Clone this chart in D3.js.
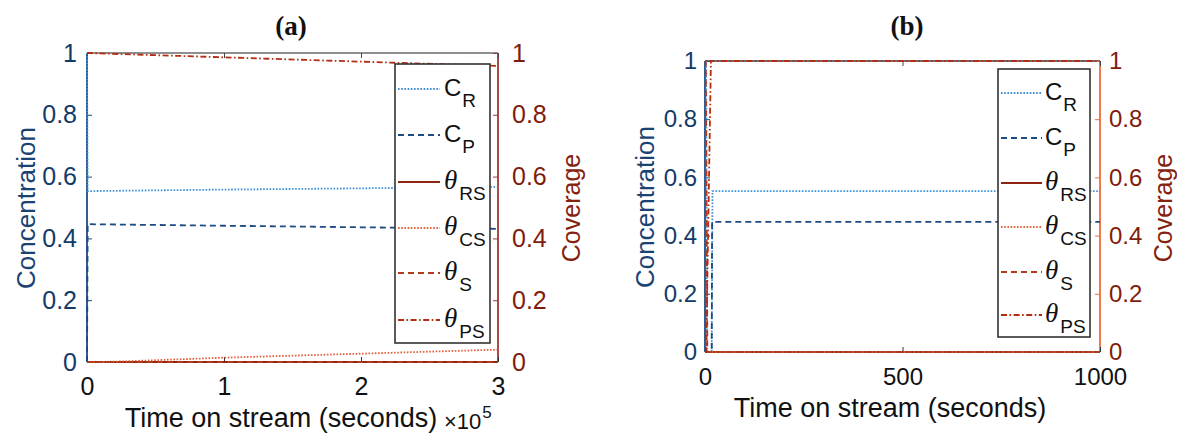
<!DOCTYPE html>
<html lang="en">
<head>
<meta charset="utf-8" />
<title>Concentration and coverage vs time on stream</title>
<script src="https://cdn.jsdelivr.net/npm/d3@7"></script>
<style>
  html,body{margin:0;background:#fff;}
  svg{display:block;}
  .tick text{font-family:"Liberation Sans",Arial,Helvetica,sans-serif;}
</style>
</head>
<body>
<svg id="chart" width="1177" height="434"></svg>
<script>
// ---------- data : panel (a), time in units of 1e5 s ----------
const aTimeCR = [0, 0.005, 1, 2, 3];
const aCR     = [1, 0.553, 0.558, 0.562, 0.567];
const aTimeCP = [0, 0.005, 1, 2, 3];
const aCP     = [0, 0.446, 0.441, 0.436, 0.431];
const aTimeRS = [0, 3];
const aRS     = [0, 0];
const aTimeCS = [0, 0.2, 1, 2, 3];
const aCS     = [0, 0.001, 0.014, 0.027, 0.040];
const aTimeS  = [0, 3];
const aS      = [0, 0];
const aTimePS = [0, 1, 2, 3];
const aPS     = [1, 0.986, 0.972, 0.958];

// ---------- data : panel (b), time in seconds ----------
const bTimeCR = [0, 3, 5, 17, 19, 1000];
const bCR     = [1, 1, 0, 0, 0.553, 0.553];
const bTimeCP = [0, 17, 18, 1000];
const bCP     = [0, 0, 0.447, 0.447];
const bTimeRS = [0, 1000];
const bRS     = [0, 0];
const bTimeCS = [0, 1000];
const bCS     = [0, 0];
const bTimeS  = [0, 2, 6, 1000];
const bS      = [1, 1, 0, 0];
const bTimePS = [0, 3, 15, 1000];
const bPS     = [0, 0, 1, 1];

// ---------- labels / ticks ----------
const legendMain = ['C', 'C', 'θ', 'θ', 'θ', 'θ'];
const legendSub  = ['R', 'P', 'RS', 'CS', 'S', 'PS'];
const yTicks  = [0, 0.2, 0.4, 0.6, 0.8, 1];
const aXTicks = [0, 1, 2, 3];
const bXTicks = [0, 500, 1000];
const titles  = ['(a)', '(b)'];

// ---------- styles ----------
const seriesStyle = [
  {color:'#3b8fd8', dash:'1.6,1.6', w:1.8},        // C_R dotted
  {color:'#1c4a84', dash:'6,4',     w:1.8},        // C_P dashed
  {color:'#8e2412', dash:null,      w:2},          // θ_RS solid
  {color:'#e2603a', dash:'1.6,1.6', w:1.8},        // θ_CS dotted
  {color:'#b23a1c', dash:'6,4',     w:1.8},        // θ_S dashed
  {color:'#b32d12', dash:'6,2.5,1.6,2.5', w:1.8}   // θ_PS dash-dot
];
const NAVY = '#143a68', DARKRED = '#7f1c0c';
const SANS = '"Liberation Sans",Arial,Helvetica,sans-serif';
const SERIF = '"Liberation Serif","Times New Roman",serif';

const svg = d3.select('#chart');

const panels = [
  {
    x0:87, x1:498, y0:53, y1:362, xDomain:[0,3], xTicks:aXTicks,
    times:[aTimeCR,aTimeCP,aTimeRS,aTimeCS,aTimeS,aTimePS],
    vals:[aCR,aCP,aRS,aCS,aS,aPS],
    leftCol:'#1d4a80', rightCol:'#9c3a30', topCol:'#6a6a6a', bottomCol:'#8e2412',
    legend:{x:395, y:64, w:95, h:279, rows:[89,135,182,228,273,320], lx0:398, lx1:440, tx:444},
    title:{x:291, y:35}, yLab:{x:26, y:208}, cov:{x:571, y:208},
    xTickY:395, xLab:{x:281, y:427}, exponent:true,
    lPad:10, rPad:14, tickFont:25
  },
  {
    x0:705, x1:1100, y0:61, y1:352, xDomain:[0,1000], xTicks:bXTicks,
    times:[bTimeCR,bTimeCP,bTimeRS,bTimeCS,bTimeS,bTimePS],
    vals:[bCR,bCP,bRS,bCS,bS,bPS],
    leftCol:'#1d4a80', rightCol:'#ec6d3c', topCol:'#3a3f4a', bottomCol:'#e4602f',
    legend:{x:998, y:69, w:92, h:268, rows:[93,138,183,227,272,315], lx0:1001, lx1:1042, tx:1045},
    title:{x:907, y:35}, yLab:{x:645, y:207}, cov:{x:1163, y:208},
    xTickY:385, xLab:{x:890, y:417}, exponent:false,
    lPad:8, rPad:9, tickFont:24
  }
];

panels.forEach((p, pi) => {
  const g = svg.append('g');
  const x = d3.scaleLinear().domain(p.xDomain).range([p.x0, p.x1]);
  const y = d3.scaleLinear().domain([0, 1]).range([p.y1, p.y0]);

  // box edges
  g.append('line').attr('x1',p.x0).attr('x2',p.x1).attr('y1',p.y0).attr('y2',p.y0).attr('stroke',p.topCol).attr('stroke-width',1.3);
  g.append('line').attr('x1',p.x0).attr('x2',p.x1).attr('y1',p.y1).attr('y2',p.y1).attr('stroke',p.bottomCol).attr('stroke-width',2);
  g.append('line').attr('x1',p.x0).attr('x2',p.x0).attr('y1',p.y0).attr('y2',p.y1).attr('stroke',p.leftCol).attr('stroke-width',1.8);
  g.append('line').attr('x1',p.x1).attr('x2',p.x1).attr('y1',p.y0).attr('y2',p.y1).attr('stroke',p.rightCol).attr('stroke-width',1.8);

  // axes (ticks inward, MATLAB style)
  const axB = g.append('g').attr('transform',`translate(0,${p.y1})`)
    .call(d3.axisBottom(x).tickValues(p.xTicks).tickSizeInner(-5).tickSizeOuter(0).tickPadding(0).tickFormat(d=>d));
  axB.select('.domain').remove();
  axB.selectAll('line').attr('stroke','#333');
  axB.selectAll('text').attr('y', p.xTickY - p.y1).attr('dy',null)
    .attr('font-size',p.tickFont).attr('fill','#111').attr('font-family',SANS);

  const axT = g.append('g').attr('transform',`translate(0,${p.y0})`)
    .call(d3.axisTop(x).tickValues(p.xTicks).tickSizeInner(-5).tickSizeOuter(0).tickFormat(''));
  axT.select('.domain').remove();
  axT.selectAll('line').attr('stroke','#444');

  const axL = g.append('g').attr('transform',`translate(${p.x0},0)`)
    .call(d3.axisLeft(y).tickValues(yTicks).tickSizeInner(-5).tickSizeOuter(0).tickPadding(p.lPad).tickFormat(d=>d));
  axL.select('.domain').remove();
  axL.selectAll('line').attr('stroke',p.leftCol);
  axL.selectAll('text').attr('font-size',p.tickFont).attr('fill',NAVY).attr('font-family',SANS);

  const axR = g.append('g').attr('transform',`translate(${p.x1},0)`)
    .call(d3.axisRight(y).tickValues(yTicks).tickSizeInner(-5).tickSizeOuter(0).tickPadding(p.rPad).tickFormat(d=>d));
  axR.select('.domain').remove();
  axR.selectAll('line').attr('stroke',p.rightCol);
  axR.selectAll('text').attr('font-size',p.tickFont).attr('fill',DARKRED).attr('font-family',SANS);

  // series
  const line = d3.line().x(d=>x(d[0])).y(d=>y(d[1]));
  p.times.forEach((t, si) => {
    const pts = t.map((tv, k) => [tv, p.vals[si][k]]);
    const st = seriesStyle[si];
    g.append('path').datum(pts).attr('d', line).attr('fill','none')
      .attr('stroke', st.color).attr('stroke-width', st.w)
      .attr('stroke-dasharray', st.dash);
  });

  // legend
  const L = p.legend;
  g.append('rect').attr('x',L.x).attr('y',L.y).attr('width',L.w).attr('height',L.h)
    .attr('fill','#fff').attr('stroke','#333').attr('stroke-width',1.6);
  L.rows.forEach((ry, si) => {
    const st = seriesStyle[si];
    g.append('line').attr('x1',L.lx0).attr('x2',L.lx1).attr('y1',ry).attr('y2',ry)
      .attr('stroke',st.color).attr('stroke-width',st.w).attr('stroke-dasharray',st.dash);
    const isTheta = legendMain[si] === 'θ';
    const m = g.append('text').attr('x',L.tx).attr('y',ry+7)
      .attr('font-family', isTheta ? SERIF : SANS)
      .attr('font-style', isTheta ? 'italic' : 'normal')
      .attr('font-size', isTheta ? 27 : 24).attr('fill','#111').text(legendMain[si]);
    const mw = m.node().getComputedTextLength();
    g.append('text').attr('x',L.tx + mw + (isTheta ? 2 : 1)).attr('y',ry+18)
      .attr('font-family',SANS).attr('font-size',19).attr('fill','#111').text(legendSub[si]);
  });

  // titles and labels
  g.append('text').attr('x',p.title.x).attr('y',p.title.y).attr('text-anchor','middle')
    .attr('font-family',SERIF).attr('font-weight','bold').attr('font-size',27).attr('fill','#111')
    .text(titles[pi]);
  g.append('text').attr('transform',`translate(${p.yLab.x},${p.yLab.y}) rotate(-90)`)
    .attr('text-anchor','middle').attr('dy','0.35em').attr('font-family',SANS).attr('font-size',26)
    .attr('fill','#1a4272').text('Concentration');
  g.append('text').attr('transform',`translate(${p.cov.x},${p.cov.y}) rotate(-90)`)
    .attr('text-anchor','middle').attr('dy','0.35em').attr('font-family',SANS).attr('font-size',25)
    .attr('fill','#851f10').text('Coverage');
  g.append('text').attr('x',p.xLab.x).attr('y',p.xLab.y).attr('text-anchor','middle')
    .attr('font-family',SANS).attr('font-size',27).attr('fill','#111').text('Time on stream (seconds)');

  if (p.exponent) {
    const e = g.append('text').attr('x',444).attr('y',429).attr('font-family',SANS)
      .attr('font-size',22).attr('fill','#111').text('×10');
    const ew = e.node().getComputedTextLength();
    g.append('text').attr('x',444 + ew + 1).attr('y',418).attr('font-family',SANS)
      .attr('font-size',17).attr('fill','#111').text('5');
  }
});
</script>
</body>
</html>
